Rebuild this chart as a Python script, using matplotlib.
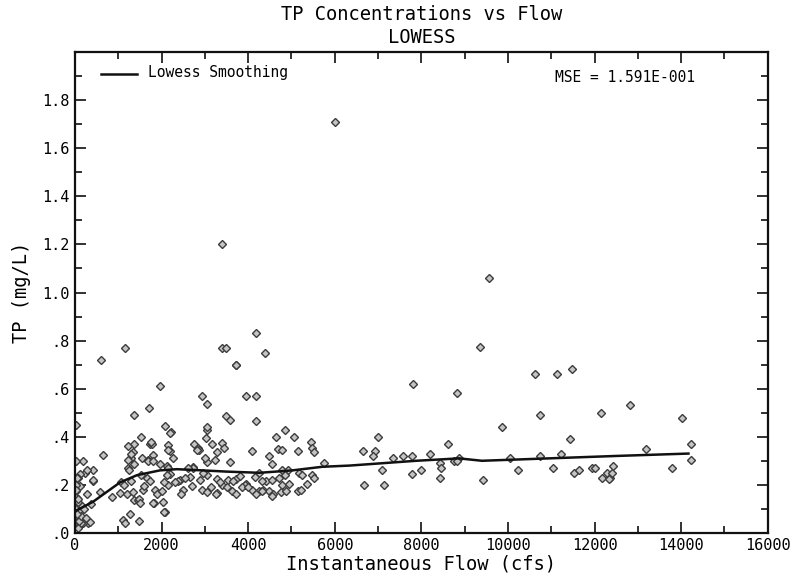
import matplotlib
matplotlib.use('Agg')
import matplotlib.pyplot as plt
from matplotlib.ticker import MultipleLocator

flow_cfs = [
    # outliers / upper points
    6000, 3390, 9560, 4190, 3390, 4400, 3730, 600, 1150, 1960, 7810, 8820,
    2930, 3960, 4190, 9350, 10620, 11130, 11470, 9860, 10730, 12140, 12810,
    14010, 11430, 8620, 14220, 13200, 7580, 7780, 8200, 8430, 8450, 8430,
    8760, 8870, 10050, 10230, 9420, 10740, 11220, 11040, 11520, 11640, 11940,
    12000, 12170, 12290, 12350, 12400, 12420, 12330, 13800, 14220, 7780, 8000,
    # 6500 - 9000
    7000, 6660, 6930, 6890, 7350, 7080, 6680, 7140, 8830,
    # 4200 - 6000
    4840, 4650, 5070, 5460, 4680, 4770, 5140, 5480, 5530, 4470, 4560, 4770,
    4910, 5740, 4260, 4420, 4560, 4720, 4860, 5180, 5250, 5480, 5530, 4770,
    4950, 5350, 4260, 4350, 4490, 4580, 4750, 4880, 5160, 5230, 4540,
    # 2000 - 4200
    3480, 3710, 3040, 3480, 3590, 4170, 3060, 3020, 2740, 2830, 2860, 3160,
    3390, 3430, 4080, 3290, 3230, 3040, 3570, 2070, 2210, 2140, 2190, 2260,
    2720, 2190, 2420, 2650, 2880, 3060, 3290, 3530, 3730, 3960, 4150, 4310,
    2140, 2370, 2490, 2700, 2930, 3040, 3270, 3390, 3500, 3620, 3730, 3920,
    4080, 4190, 4330, 2440, 3250, 2070, 3040, 2720, 2810, 2600, 3000, 2190,
    2120, 2140, 3860, 3650, 3150, 2550, 2300, 3800, 4000, 2950, 3350,
    # 1000 - 2000
    1700, 1360, 1520, 1360, 1730, 1770, 1340, 1290, 1360, 1540, 1680, 1800,
    1220, 1240, 1060, 1130, 1290, 1040, 1200, 1340, 1360, 1450, 1470, 1570,
    1590, 1520, 1660, 1730, 1840, 1820, 1890, 2000, 2050, 2120, 2140, 2030,
    2050, 1100, 1150, 1270, 1470, 1800, 1220, 1290, 1220, 1680, 1800, 1960,
    1500, 1750,
    # 0 - 1000
    650, 420, 230, 115, 420, 580, 300, 350, 190, 280, 420, 70, 115, 30, 20,
    50, 20, 30, 50, 80, 120, 160, 50, 180, 280, 10, 20, 40, 60, 70, 90, 100,
    110, 130, 150, 10, 30, 60, 80, 100, 140, 200, 250, 40, 70, 380, 860,
]
tp_mgl = [
    1.71, 1.20, 1.06, 0.83, 0.77, 0.75, 0.70, 0.72, 0.77, 0.61, 0.62, 0.58,
    0.57, 0.57, 0.57, 0.775, 0.66, 0.66, 0.68, 0.44, 0.49, 0.50, 0.53,
    0.48, 0.39, 0.37, 0.37, 0.35, 0.32, 0.32, 0.33, 0.29, 0.27, 0.23,
    0.30, 0.31, 0.31, 0.26, 0.22, 0.32, 0.33, 0.27, 0.25, 0.26, 0.27,
    0.27, 0.23, 0.25, 0.23, 0.25, 0.28, 0.225, 0.27, 0.305, 0.245, 0.26,
    0.40, 0.34, 0.34, 0.32, 0.31, 0.26, 0.20, 0.20, 0.30,
    0.43, 0.40, 0.40, 0.38, 0.35, 0.345, 0.34, 0.355, 0.335, 0.32, 0.285, 0.26,
    0.26, 0.29, 0.25, 0.215, 0.22, 0.23, 0.24, 0.25, 0.24, 0.24, 0.23, 0.20,
    0.205, 0.205, 0.175, 0.18, 0.175, 0.16, 0.17, 0.175, 0.175, 0.18, 0.155,
    0.77, 0.70, 0.535, 0.485, 0.47, 0.465, 0.43, 0.395, 0.37, 0.355, 0.345, 0.37,
    0.375, 0.355, 0.34, 0.335, 0.305, 0.295, 0.295, 0.445, 0.42, 0.365, 0.34, 0.31,
    0.275, 0.245, 0.22, 0.233, 0.22, 0.24, 0.225, 0.22, 0.225, 0.205, 0.233, 0.217,
    0.20, 0.217, 0.18, 0.196, 0.18, 0.17, 0.167, 0.20, 0.19, 0.175, 0.16, 0.20,
    0.18, 0.16, 0.175, 0.16, 0.16, 0.085, 0.44, 0.27, 0.345, 0.27, 0.31, 0.415,
    0.28, 0.345, 0.19, 0.215, 0.19, 0.23, 0.21, 0.235, 0.19, 0.25, 0.21,
    0.52, 0.49, 0.40, 0.37, 0.37, 0.37, 0.335, 0.31, 0.285, 0.31, 0.305, 0.325,
    0.27, 0.26, 0.21, 0.20, 0.215, 0.165, 0.16, 0.17, 0.135, 0.135, 0.14, 0.18,
    0.195, 0.24, 0.23, 0.215, 0.18, 0.125, 0.16, 0.175, 0.21, 0.24, 0.27, 0.13,
    0.085, 0.055, 0.04, 0.08, 0.05, 0.125, 0.36, 0.33, 0.305, 0.30, 0.30, 0.285,
    0.125, 0.38,
    0.325, 0.26, 0.25, 0.245, 0.215, 0.17, 0.04, 0.045, 0.30, 0.26, 0.22, 0.23,
    0.195, 0.45, 0.30, 0.23, 0.20, 0.175, 0.145, 0.115, 0.09, 0.06, 0.035, 0.04,
    0.16, 0.12, 0.10, 0.08, 0.06, 0.05, 0.03, 0.07, 0.09, 0.04, 0.11, 0.15,
    0.18, 0.13, 0.02, 0.05, 0.07, 0.10, 0.06, 0.08, 0.14, 0.12, 0.15,
]

# Lowess smoothing curve
lowess_x = [0, 420, 1040, 1430, 1960, 2350, 2720, 3500, 4260, 5020, 5710,
            6340, 7880, 8870, 9400, 10940, 12490, 14170]
lowess_y = [0.09, 0.13, 0.21, 0.24, 0.26, 0.265, 0.262, 0.255, 0.25, 0.26,
            0.275, 0.28, 0.30, 0.31, 0.30, 0.31, 0.32, 0.33]

x_ticks = [0, 2000, 4000, 6000, 8000, 10000, 12000, 14000, 16000]
x_labels = ['0', '2000', '4000', '6000', '8000', '10000', '12000', '14000', '16000']
y_ticks = [0.0, 0.2, 0.4, 0.6, 0.8, 1.0, 1.2, 1.4, 1.6, 1.8]
y_labels = ['.0', '.2', '.4', '.6', '.8', '1.0', '1.2', '1.4', '1.6', '1.8']

plt.rcParams['font.family'] = ['DejaVu Sans Mono']

fig = plt.figure(figsize=(7.98, 5.73), dpi=100)
ax = fig.add_axes([0.094, 0.070, 0.868, 0.839])

ax.plot(flow_cfs, tp_mgl,
        linestyle='none',
        marker='D',
        markersize=4.2,
        markerfacecolor='#c4c4c4',
        markeredgecolor='#3c3c3c',
        markeredgewidth=1.0)

ax.plot(lowess_x, lowess_y, color='#111111', linewidth=1.8)

ax.set_xlim(0, 16000)
ax.set_ylim(0, 2.0)

ax.set_xticks(x_ticks)
ax.set_xticklabels(x_labels, fontsize=11)
ax.set_yticks(y_ticks)
ax.set_yticklabels(y_labels, fontsize=11)
ax.xaxis.set_minor_locator(MultipleLocator(1000))
ax.yaxis.set_minor_locator(MultipleLocator(0.1))

ax.tick_params(which='both', direction='in', top=True, right=True,
               width=1.3, color='#222222')
ax.tick_params(which='major', length=8, pad=4)
ax.tick_params(which='minor', length=5)
for spine in ax.spines.values():
    spine.set_linewidth(1.6)
    spine.set_color('#111111')

ax.set_xlabel('Instantaneous Flow (cfs)', fontsize=13.5, labelpad=1)
ax.set_ylabel('TP (mg/L)', fontsize=13.5, labelpad=8)

fig.text(0.528, 0.975, 'TP Concentrations vs Flow', fontsize=13.5,
         ha='center', va='center')
fig.text(0.528, 0.934, 'LOWESS', fontsize=13.5, ha='center', va='center')

# legend entry drawn in axes coordinates
ax.plot([0.037, 0.090], [0.955, 0.955], transform=ax.transAxes,
        color='#111111', linewidth=1.8)
ax.text(0.105, 0.957, 'Lowess Smoothing', transform=ax.transAxes,
        fontsize=10.5, va='center', ha='left')
ax.text(0.895, 0.948, 'MSE = 1.591E-001', transform=ax.transAxes,
        fontsize=10.5, va='center', ha='right')

fig.savefig('out.png', dpi=100)
